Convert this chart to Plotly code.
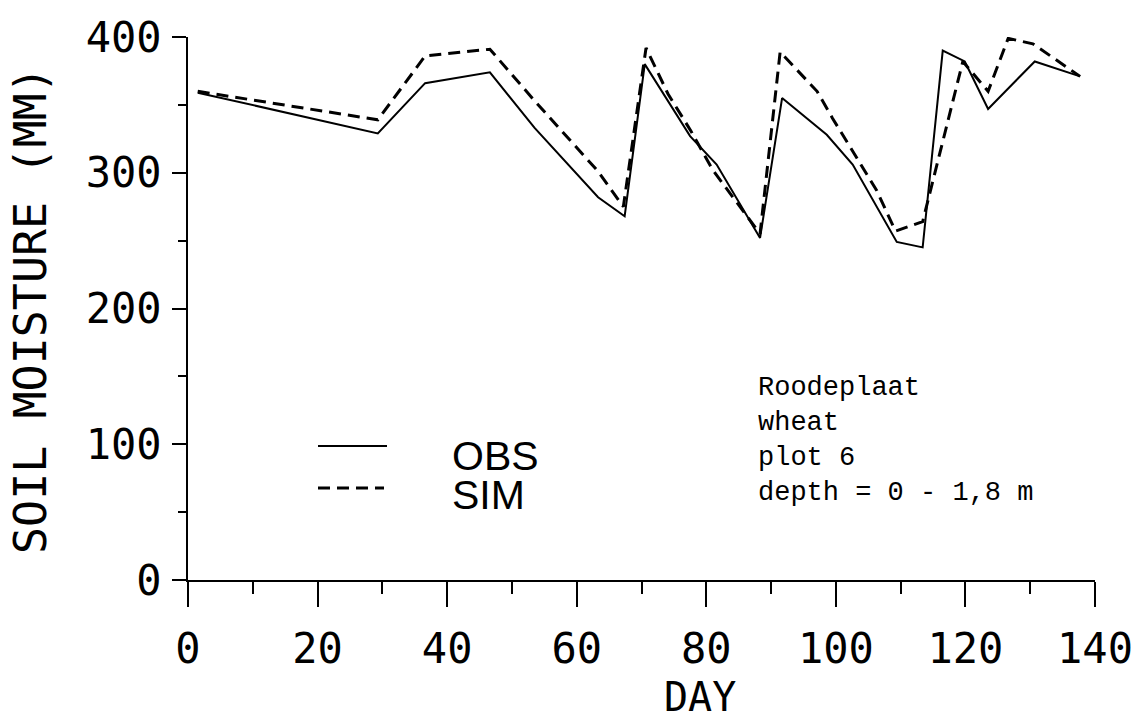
import plotly.graph_objects as go

# ---- data ----
obs_day = [1.5, 29.3, 36.6, 46.6, 53.5, 63.3, 67.4, 70.5, 77.5, 81.6, 88.3, 91.7,
           98.6, 102.6, 109.4, 113.4, 116.5, 119.9, 123.5, 130.7, 137.7]
obs_val = [359, 329, 366, 374, 333, 282, 268, 380, 327, 306, 252, 355,
           328, 306, 249, 245, 390, 382, 347, 382, 371]

sim_day = [1.5, 29.3, 36.6, 46.6, 53.5, 63.3, 67.2, 70.7, 74.1, 77.6, 81.0, 88.3,
           91.4, 97.1, 99.5, 102.6, 106.3, 109.2, 113.4, 119.6, 123.5, 126.6, 130.4, 137.7]
sim_val = [360, 339, 386, 391, 353, 301, 275, 392, 358, 331, 302, 255,
           389, 360, 340, 316, 287, 257, 264, 382, 360, 399, 395, 371]

x_ticks = [0, 20, 40, 60, 80, 100, 120, 140]
y_ticks = [0, 100, 200, 300, 400]
series_names = ["OBS", "SIM"]
info_lines = ["Roodeplaat", "wheat", "plot 6", "depth = 0 - 1,8 m"]

W, H = 1133, 719
L, R, T, B = 188, 38, 37, 139
pw, ph = W - L - R, H - T - B

mono = "DejaVu Sans Mono"

fig = go.Figure()
fig.add_trace(go.Scatter(x=obs_day, y=obs_val, mode="lines", name=series_names[0],
                         line=dict(color="black", width=2), showlegend=False))
fig.add_trace(go.Scatter(x=sim_day, y=sim_val, mode="lines", name=series_names[1],
                         line=dict(color="black", width=3, dash="12px,7px"), showlegend=False))


def px2paper_x(px):
    return (px - L) / pw


def py2paper_y(py):
    return (H - B - py) / ph


# legend drawn manually
shapes = [
    dict(type="line", xref="paper", yref="paper",
         x0=px2paper_x(318), x1=px2paper_x(387), y0=py2paper_y(446), y1=py2paper_y(446),
         line=dict(color="black", width=2)),
    dict(type="line", xref="paper", yref="paper",
         x0=px2paper_x(318), x1=px2paper_x(384), y0=py2paper_y(488), y1=py2paper_y(488),
         line=dict(color="black", width=3, dash="12px,7px")),
]

annotations = [
    dict(text=series_names[0], xref="paper", yref="paper", x=px2paper_x(450), y=py2paper_y(456),
         xanchor="left", yanchor="middle", showarrow=False,
         font=dict(family="Liberation Sans", size=41, color="black")),
    dict(text=series_names[1], xref="paper", yref="paper", x=px2paper_x(450), y=py2paper_y(495),
         xanchor="left", yanchor="middle", showarrow=False,
         font=dict(family="Liberation Sans", size=41, color="black")),
    dict(text="<br>".join(info_lines), xref="paper", yref="paper", x=px2paper_x(756), y=py2paper_y(371),
         xanchor="left", yanchor="top", align="left", showarrow=False,
         font=dict(family="Liberation Mono", size=27, color="black")),
    dict(text="SOIL MOISTURE (MM)", xref="paper", yref="paper", x=px2paper_x(31), y=py2paper_y(310),
         xanchor="center", yanchor="middle", textangle=-90, showarrow=False,
         font=dict(family=mono, size=45, color="black")),
    dict(text="DAY", xref="paper", yref="paper", x=px2paper_x(700), y=py2paper_y(697),
         xanchor="center", yanchor="middle", showarrow=False,
         font=dict(family=mono, size=40, color="black")),
]

fig.update_layout(
    width=W, height=H,
    margin=dict(l=L, r=R, t=T, b=B, pad=0, autoexpand=False),
    paper_bgcolor="white", plot_bgcolor="white",
    shapes=shapes, annotations=annotations,
    xaxis=dict(range=[0, 140], tickvals=x_ticks, ticktext=[str(v) for v in x_ticks],
               automargin=False,
               showgrid=False, zeroline=False, showline=True, linecolor="black", linewidth=2,
               ticks="outside", ticklen=25, tickwidth=2, tickcolor="black",
               minor=dict(dtick=10, ticks="outside", ticklen=12, tickwidth=2, tickcolor="black", showgrid=False),
               tickfont=dict(family=mono, size=42, color="black"), ticklabelstandoff=6),
    yaxis=dict(range=[0, 400], tickvals=y_ticks, ticktext=[str(v) for v in y_ticks],
               automargin=False,
               showgrid=False, zeroline=False, showline=True, linecolor="black", linewidth=2,
               ticks="outside", ticklen=14, tickwidth=2, tickcolor="black",
               minor=dict(dtick=50, ticks="outside", ticklen=8, tickwidth=2, tickcolor="black", showgrid=False),
               tickfont=dict(family=mono, size=42, color="black"), ticklabelstandoff=2),
)

fig.write_html("out.html")
